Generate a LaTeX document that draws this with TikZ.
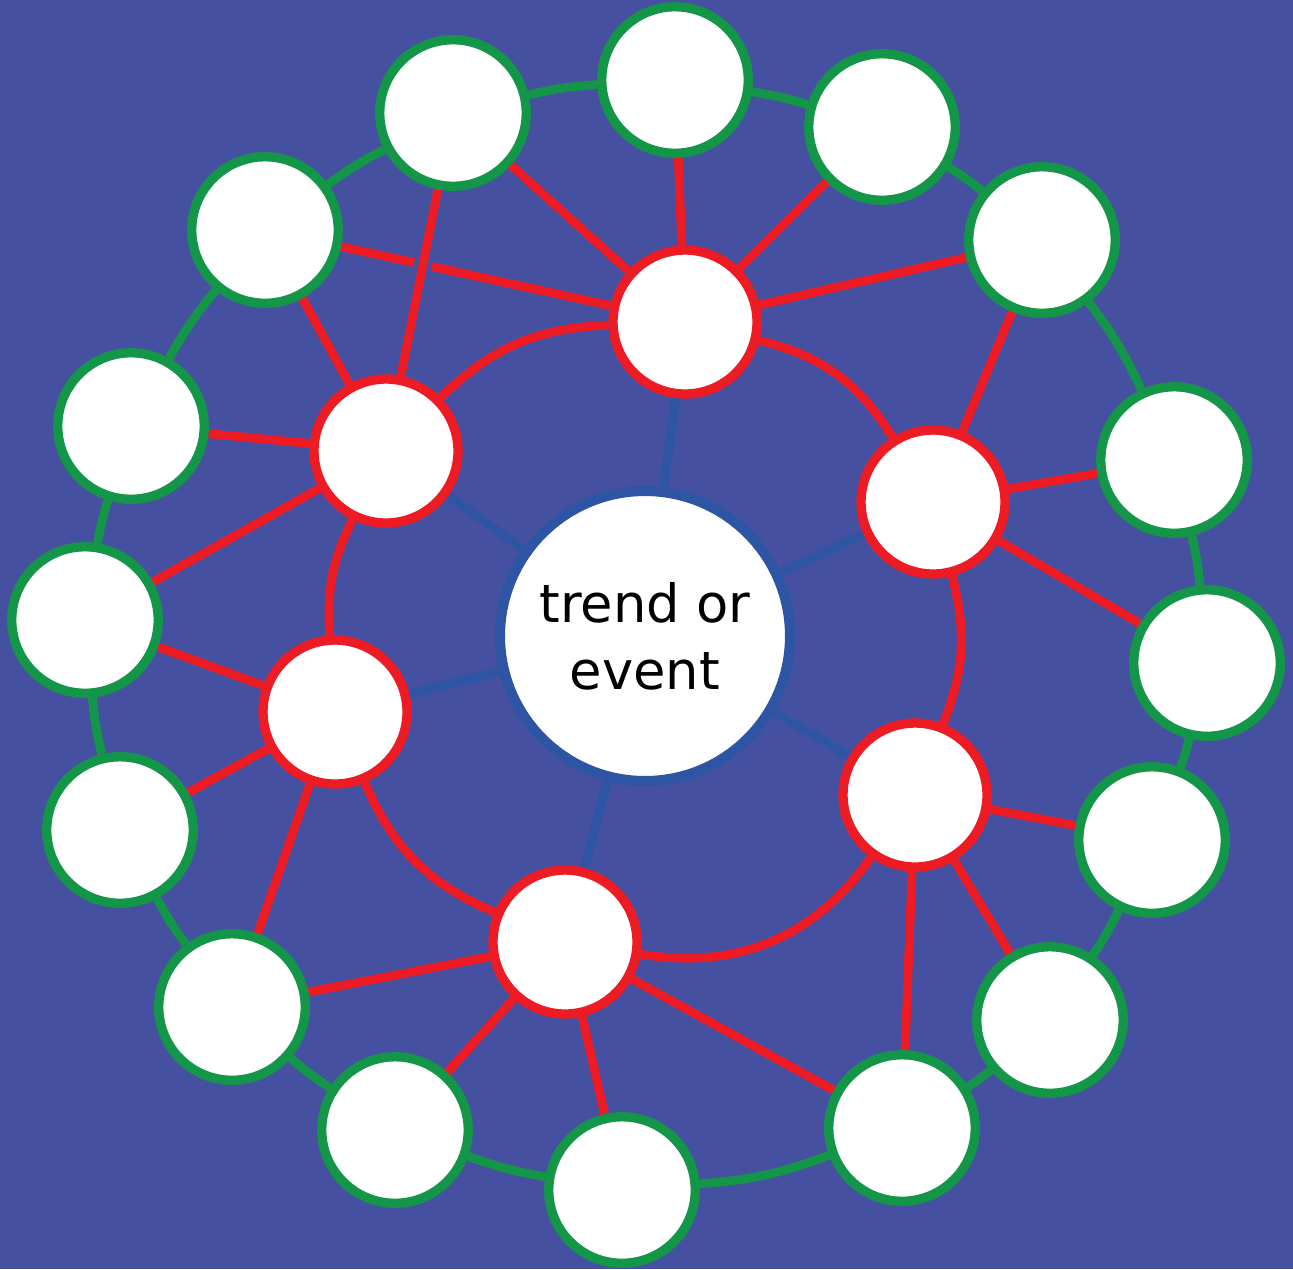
\documentclass[tikz,border=0pt]{standalone}
\usepackage{xcolor}
\usepackage{fontspec}
\usepackage{tikz}
\setmainfont{DejaVu Sans}
\definecolor{mapback}{RGB}{69,80,160}
\definecolor{mapred}{RGB}{237,28,36}
\definecolor{mapgreen}{RGB}{20,150,72}
\definecolor{mapblue}{RGB}{46,84,164}

\pgfdeclarelayer{base}
\pgfdeclarelayer{links}
\pgfsetlayers{base,links,main}

\tikzset{
    trendnode/.style={circle, draw=mapblue, fill=white, line width=5.7pt, minimum size=5.8cm, inner sep=0pt, align=center, font=\fontsize{30}{38}\selectfont},
    innernode/.style={circle, draw=mapred, fill=white, line width=5.3pt, minimum size=2.88cm, inner sep=0pt},
    outernode/.style={circle, draw=mapgreen, fill=white, line width=5.3pt, minimum size=2.93cm, inner sep=0pt},
    redlink/.style={draw=mapred, line width=5pt},
    greenlink/.style={draw=mapgreen, line width=5pt},
    bluelink/.style={draw=mapblue, line width=5pt}
}

\begin{document}
\begin{tikzpicture}[x=0.02cm, y=-0.02cm]
    \begin{pgfonlayer}{base}
        \fill[mapback, use as bounding box] (0,0) rectangle (1293,1269);
    \end{pgfonlayer}

    \node[trendnode] (trend) at (645,636) {trend or\\event};

    \node[innernode] (inner1) at (685,322) {};
    \node[innernode] (inner2) at (933,502) {};
    \node[innernode] (inner3) at (915,795) {};
    \node[innernode] (inner4) at (565,942) {};
    \node[innernode] (inner5) at (335,712) {};
    \node[innernode] (inner6) at (386,451) {};

    \node[outernode] (outer1) at (453,113) {};
    \node[outernode] (outer2) at (675,80) {};
    \node[outernode] (outer3) at (882,127) {};
    \node[outernode] (outer4) at (1042,240) {};
    \node[outernode] (outer5) at (1174,460) {};
    \node[outernode] (outer6) at (1207,663) {};
    \node[outernode] (outer7) at (1152,840) {};
    \node[outernode] (outer8) at (1050,1020) {};
    \node[outernode] (outer9) at (902,1128) {};
    \node[outernode] (outer10) at (622,1190) {};
    \node[outernode] (outer11) at (395,1130) {};
    \node[outernode] (outer12) at (232,1007) {};
    \node[outernode] (outer13) at (120,830) {};
    \node[outernode] (outer14) at (85,620) {};
    \node[outernode] (outer15) at (131,426) {};
    \node[outernode] (outer16) at (265,230) {};

    \begin{pgfonlayer}{links}
        \foreach \p in {1,...,6}
            \draw[bluelink] (trend) -- (inner\p);

        \foreach \p/\q/\w in {1/2/5, 2/3/4, 3/4/4, 4/5/6, 5/6/4, 6/7/4, 7/8/4, 8/9/4, 9/10/8, 10/11/5, 11/12/4, 12/13/4, 13/14/4, 14/15/4, 15/16/5, 16/1/4}
            \draw[greenlink] (outer\p) to[bend left=\w] (outer\q);

        \foreach \p/\q/\w in {1/2/22, 2/3/18, 3/4/32, 4/5/22, 5/6/15, 6/1/21}
            \draw[redlink] (inner\p) to[bend left=\w] (inner\q);

        \foreach \p/\q in {1/16, 1/1, 1/2, 1/3, 1/4, 2/4, 2/5, 2/6, 3/7, 3/8, 3/9, 4/9, 4/10, 4/11, 4/12, 5/12, 5/13, 5/14, 6/14, 6/15, 6/16}
            \draw[redlink] (inner\p) -- (outer\q);
        \draw[redlink, preaction={draw=mapback, line width=0.36cm}] (outer1) -- (inner6);
    \end{pgfonlayer}
\end{tikzpicture}
\end{document}
